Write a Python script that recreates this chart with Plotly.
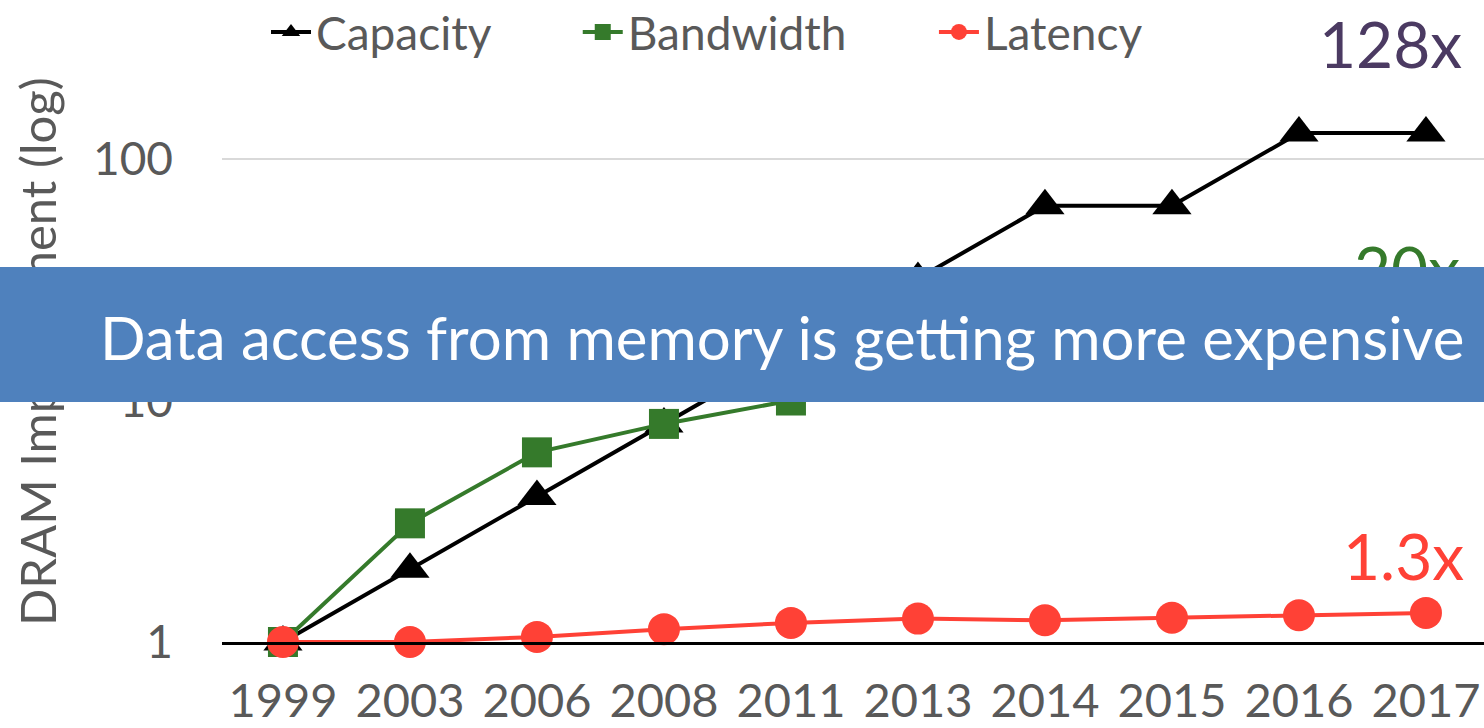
import plotly.graph_objects as go

# data (improvement relative to 1999)
years = ["1999", "2003", "2006", "2008", "2011", "2013", "2014", "2015", "2016", "2017"]
capacity = [1, 2, 4, 8, 16, 32, 64, 64, 128, 128]
bandwidth = [1, 3.1, 6.1, 8, 10, 12.8, 14.9, 17, 19.2, 20]
latency = [1, 1.0, 1.05, 1.13, 1.2, 1.25, 1.23, 1.26, 1.29, 1.32]

FONT = "Lato"
GREY = "#595959"
BLACK = "#000000"
GREEN = "#357A2B"
RED = "#FF4136"
BLUE = "#4F81BD"

W, H = 1484, 728
L, R, T, B = 222, 0, 60, 86
PW, PH = W - L - R, H - T - B
PAD = "\u00a0" * 7


def px(x):
    return (x - L) / PW


def py(y):
    return (H - B - y) / PH


fig = go.Figure()
fig.add_trace(go.Scatter(
    x=years, y=capacity, name="Capacity" + PAD, mode="lines+markers",
    line=dict(color=BLACK, width=4),
    marker=dict(symbol="triangle-up", size=34, color=BLACK),
    cliponaxis=False,
))
fig.add_trace(go.Scatter(
    x=years, y=bandwidth, name="Bandwidth" + PAD, mode="lines+markers",
    line=dict(color=GREEN, width=4),
    marker=dict(symbol="square", size=30, color=GREEN),
    cliponaxis=False,
))
fig.add_trace(go.Scatter(
    x=years, y=latency, name="Latency", mode="lines+markers",
    line=dict(color=RED, width=4),
    marker=dict(symbol="circle", size=32, color=RED),
    cliponaxis=False,
))

annotations = [
    # y axis title
    dict(text="DRAM Improvement (log)", xref="paper", yref="paper",
         x=px(37), y=py(352), xanchor="center", yanchor="middle",
         textangle=-90, showarrow=False,
         font=dict(family=FONT, size=49, color=GREY)),
    # end labels
    dict(text="128x", xref="paper", yref="paper", x=px(1464), y=py(43),
         xanchor="right", yanchor="middle", showarrow=False,
         font=dict(family=FONT, size=64, color="#4B3A62")),
    dict(text="20x", xref="paper", yref="paper", x=px(1462), y=py(268),
         xanchor="right", yanchor="middle", showarrow=False,
         font=dict(family=FONT, size=64, color=GREEN)),
    dict(text="1.3x", xref="paper", yref="paper", x=px(1466), y=py(555),
         xanchor="right", yanchor="middle", showarrow=False,
         font=dict(family=FONT, size=64, color=RED)),
    # banner
    dict(text=" ", xref="paper", yref="paper", x=px(0), y=py(267),
         xanchor="left", yanchor="top", showarrow=False,
         width=W + 40, height=135, bgcolor=BLUE, borderpad=0, borderwidth=0,
         font=dict(family=FONT, size=10, color=BLUE)),
    dict(text="Data access from memory is getting more expensive",
         xref="paper", yref="paper", x=px(1466), y=py(337),
         xanchor="right", yanchor="middle", showarrow=False,
         font=dict(family=FONT, size=60, color="white")),
]

fig.update_layout(
    width=W, height=H,
    margin=dict(l=L, r=R, t=T, b=B, pad=0, autoexpand=False),
    plot_bgcolor="white", paper_bgcolor="white",
    font=dict(family=FONT, color=GREY),
    showlegend=True,
    legend=dict(orientation="h", xref="container", yref="container",
                x=266 / W, y=1 - 32 / H, xanchor="left", yanchor="middle",
                font=dict(family=FONT, size=46, color=GREY),
                itemwidth=40, bgcolor="rgba(0,0,0,0)"),
    xaxis=dict(type="category", range=[-0.48, 9.457], automargin=False,
               showline=True, linecolor=BLACK, linewidth=3,
               showgrid=False, ticks="", ticklabelstandoff=16,
               tickfont=dict(family=FONT, size=47, color=GREY)),
    yaxis=dict(type="log", range=[0, 2.41], automargin=False,
               tickvals=[1, 10, 100], ticktext=["1", "10", "100"],
               showgrid=True, gridcolor="#D9D9D9", gridwidth=2,
               showline=False, zeroline=False, ticks="", ticklabelstandoff=48,
               tickfont=dict(family=FONT, size=46, color=GREY)),
    annotations=annotations,
)

# the page body has a default 8px margin; drop it so the figure fills the window
fig.write_html("out.html", config={"displayModeBar": False},
               post_script="document.body.style.margin = '0';")
